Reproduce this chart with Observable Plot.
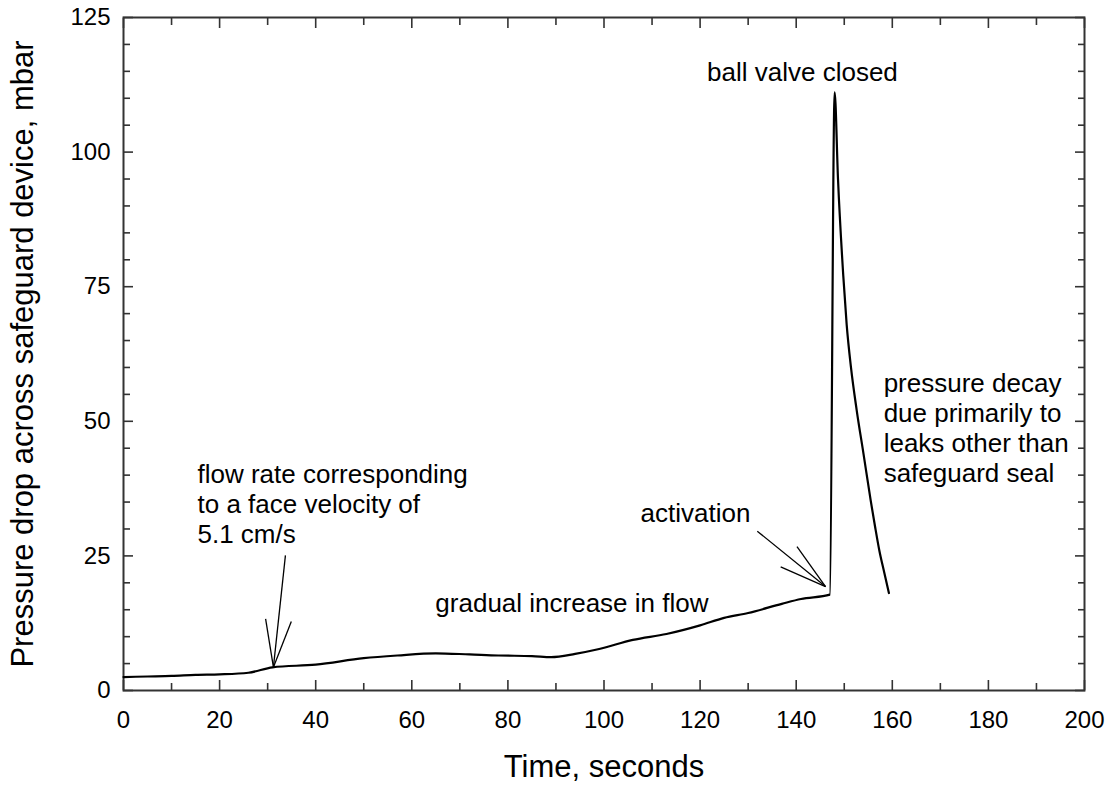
<!DOCTYPE html>
<html>
<head>
<meta charset="utf-8">
<script src="https://cdn.jsdelivr.net/npm/d3@7"></script>
<script src="https://cdn.jsdelivr.net/npm/@observablehq/plot@0.6"></script>
<style>
  html, body { margin: 0; padding: 0; background: #fff; }
</style>
</head>
<body>
<div id="chart"></div>
<script>
// ---- data ----
const timeSeconds = [0, 5, 10, 15, 20, 26, 31, 40, 50, 57, 65, 72, 78, 85, 89, 94, 99, 106, 113, 120, 125, 130, 137, 141, 147.0,
  148.0, 148.7, 149.8, 150.5, 151.4, 152.6, 154.0, 155.5, 156.4, 157.3, 158.3, 159.3];
const pressureMbar = [2.5, 2.6, 2.7, 2.9, 3.0, 3.3, 4.3, 4.8, 6.0, 6.5, 6.9, 6.7, 6.5, 6.4, 6.2, 6.8, 7.7, 9.4, 10.5, 12.1, 13.5, 14.4, 16.1, 17.0, 17.8,
  111.1, 95, 77, 68, 60, 52, 44, 35.3, 30.5, 26, 22, 18.1];

const xMajorTicks = [0, 20, 40, 60, 80, 100, 120, 140, 160, 180, 200];
const xMinorTicks = [10, 30, 50, 70, 90, 110, 130, 150, 170, 190];
const yMajorTicks = [0, 25, 50, 75, 100, 125];
const yMinorTicks = [5, 10, 15, 20, 30, 35, 40, 45, 55, 60, 65, 70, 80, 85, 90, 95, 105, 110, 115, 120];

const xLabel = "Time, seconds";
const yLabel = "Pressure drop across safeguard device, mbar";

// annotation texts (anchor positions in data units)
const noteText = ["ball valve closed", "pressure decay\ndue primarily to\nleaks other than\nsafeguard seal",
  "flow rate corresponding\nto a face velocity of\n5.1 cm/s", "activation", "gradual increase in flow"];
const noteX = [141.3, 158.2, 15.4, 107.6, 64.9];
const noteY = [114.9, 48.8, 34.8, 33.1, 16.3];
const noteAnchor = ["middle", "start", "start", "start", "start"];

// arrows: tail -> tip in data units
const arrowX1 = [33.7, 131.9];
const arrowY1 = [25.1, 29.6];
const arrowX2 = [31.2, 146.1];
const arrowY2 = [4.33, 19.3];

// ---- build ----
const series = timeSeconds.map((t, i) => ({t, p: pressureMbar[i]}));
const notes = noteText.map((s, i) => ({s, x: noteX[i], y: noteY[i], a: noteAnchor[i]}));
const arrows = arrowX1.map((x1, i) => ({x1, y1: arrowY1[i], x2: arrowX2[i], y2: arrowY2[i]}));

const FONT = "'Liberation Sans', Arial, Helvetica, sans-serif";
const AX = "#333";

function build(barbs) {
  return Plot.plot({
    width: 1112,
    height: 797,
    marginLeft: 123,
    marginRight: 28,
    marginTop: 17,
    marginBottom: 107,
    x: {domain: [0, 200]},
    y: {domain: [0, 125]},
    style: {fontFamily: FONT, background: "#fff", color: "#000"},
    marks: [
      // inward ticks on all four sides
      Plot.axisX({anchor: "bottom", ticks: xMinorTicks, tickSize: -7, tickFormat: () => "", label: null, stroke: AX, strokeWidth: 1.6}),
      Plot.axisX({anchor: "bottom", ticks: xMajorTicks, tickSize: -10, tickFormat: () => "", label: null, stroke: AX, strokeWidth: 1.6}),
      Plot.axisX({anchor: "top", ticks: xMinorTicks, tickSize: -7, tickFormat: () => "", label: null, stroke: AX, strokeWidth: 1.6}),
      Plot.axisX({anchor: "top", ticks: xMajorTicks, tickSize: -10, tickFormat: () => "", label: null, stroke: AX, strokeWidth: 1.6}),
      Plot.axisY({anchor: "left", ticks: yMinorTicks, tickSize: -7, tickFormat: () => "", label: null, stroke: AX, strokeWidth: 1.6}),
      Plot.axisY({anchor: "left", ticks: yMajorTicks, tickSize: -10, tickFormat: () => "", label: null, stroke: AX, strokeWidth: 1.6}),
      Plot.axisY({anchor: "right", ticks: yMinorTicks, tickSize: -7, tickFormat: () => "", label: null, stroke: AX, strokeWidth: 1.6}),
      Plot.axisY({anchor: "right", ticks: yMajorTicks, tickSize: -10, tickFormat: () => "", label: null, stroke: AX, strokeWidth: 1.6}),
      // tick labels
      Plot.axisX({anchor: "bottom", ticks: xMajorTicks, tickSize: 0, tickPadding: 20, label: null, fontSize: 24, fill: "#000"}),
      Plot.axisY({anchor: "left", ticks: yMajorTicks, tickSize: 0, tickPadding: 13, label: null, fontSize: 24, fill: "#000"}),
      Plot.frame({stroke: AX, strokeWidth: 2}),
      // axis titles
      Plot.text([xLabel], {frameAnchor: "bottom", dy: 86, text: d => d, fontSize: 31, fill: "#000"}),
      Plot.text([yLabel], {frameAnchor: "left", dx: -100, rotate: -90, textAnchor: "middle", text: d => d, fontSize: 31, fill: "#000"}),
      // data
      Plot.line(series, {x: "t", y: "p", stroke: "#000", strokeWidth: 2.2, curve: "monotone-x"}),
      // annotations
      Plot.link(arrows, {x1: "x1", y1: "y1", x2: "x2", y2: "y2", stroke: "#000", strokeWidth: 1.3}),
      Plot.link(barbs, {x1: "x1", y1: "y1", x2: "x2", y2: "y2", stroke: "#000", strokeWidth: 1.3}),
      Plot.text(notes.filter(d => d.a === "middle"), {x: "x", y: "y", text: "s", textAnchor: "middle", fontSize: 26, lineHeight: 1.15, fill: "#000"}),
      Plot.text(notes.filter(d => d.a === "start"), {x: "x", y: "y", text: "s", textAnchor: "start", fontSize: 26, lineHeight: 1.15, fill: "#000"})
    ]
  });
}

// first pass to get the scales, then build arrowhead barbs in pixel space
const probe = build([]);
const sx = probe.scale("x"), sy = probe.scale("y");
const HEAD_LEN = 49, HALF_ANGLE = 15.3 * Math.PI / 180;
const barbs = [];
for (const a of arrows) {
  const px1 = sx.apply(a.x1), py1 = sy.apply(a.y1), px2 = sx.apply(a.x2), py2 = sy.apply(a.y2);
  const back = Math.atan2(py1 - py2, px1 - px2);
  for (const s of [-1, 1]) {
    const ang = back + s * HALF_ANGLE;
    const bx = px2 + HEAD_LEN * Math.cos(ang), by = py2 + HEAD_LEN * Math.sin(ang);
    barbs.push({x1: a.x2, y1: a.y2, x2: sx.invert(bx), y2: sy.invert(by)});
  }
}
document.getElementById("chart").append(build(barbs));
</script>
</body>
</html>
